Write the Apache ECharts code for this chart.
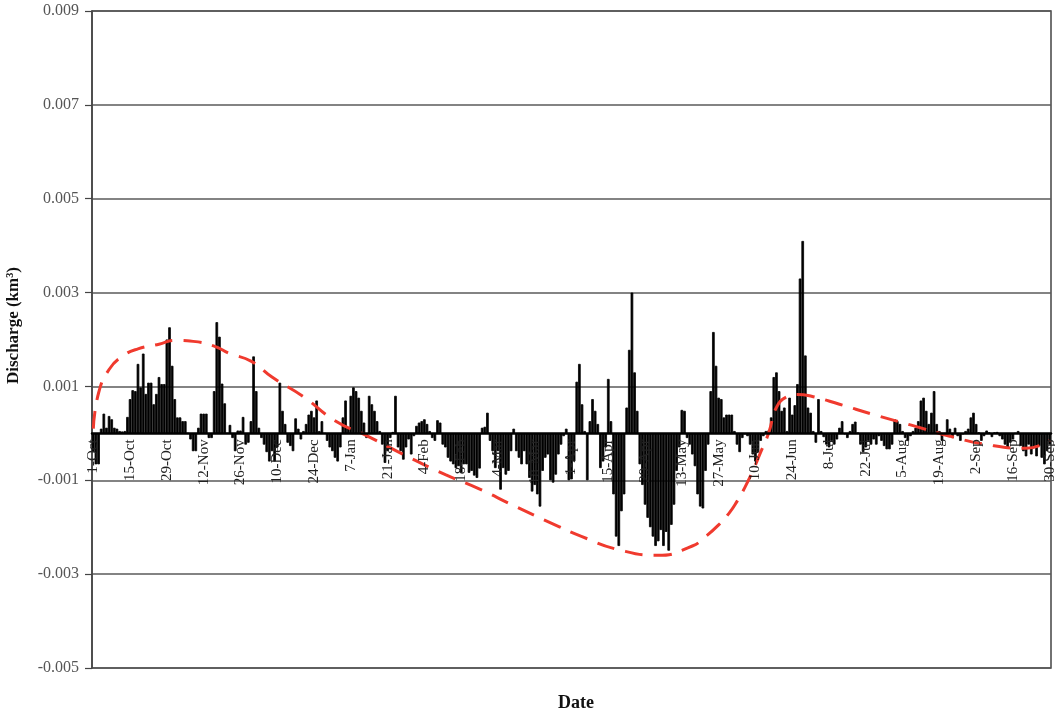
<!DOCTYPE html>
<html>
<head>
<meta charset="utf-8">
<title>Daily discharge</title>
<script src="https://cdn.jsdelivr.net/npm/echarts@6/dist/echarts.min.js"></script>
<style>
  html, body { margin: 0; padding: 0; background: #fff; }
  #chart { width: 1055px; height: 713px; }
</style>
</head>
<body>
<div id="chart"></div>
<script>
// Water year, 1 October to 30 September
const monthNames = ['Oct', 'Nov', 'Dec', 'Jan', 'Feb', 'Mar', 'Apr', 'May', 'Jun', 'Jul', 'Aug', 'Sep'];
const monthLengths = [31, 30, 31, 31, 28, 31, 30, 31, 30, 31, 31, 30];

// Daily discharge (km3), one array per month
const octQ = [-0.0004, -0.00066, -0.00066, 0.0001, 0.00042, 0.00012, 0.00037, 0.0003, 0.00012, 0.0001,
  0.00005, 0.00004, 0.00005, 0.00035, 0.00073, 0.00092, 0.0009, 0.00148, 0.00098, 0.0017,
  0.00084, 0.00108, 0.00108, 0.00062, 0.00084, 0.0012, 0.00105, 0.00105, 0.002, 0.00226,
  0.00144];
const novQ = [0.00073, 0.00034, 0.00034, 0.00026, 0.00026, 0.0, -0.00013, -0.00038, -0.00038, 0.00012,
  0.00042, 0.00042, 0.00042, -0.0001, -0.0001, 0.0009, 0.00237, 0.00206, 0.00106, 0.00064,
  0.0, 0.00018, -0.0001, -0.00038, 0.00006, 0.00006, 0.00035, -0.00024, -0.0002, 0.00026];
const decQ = [0.00164, 0.0009, 0.00012, -0.0001, -0.00024, -0.0004, -0.0006, -0.00038, -0.0006, -0.0003,
  0.00108, 0.00048, 0.0002, -0.0002, -0.00027, -0.00038, 0.00032, 0.0001, -0.00013, 0.00005,
  0.0002, 0.0004, 0.00048, 0.00034, 0.0007, 0.00005, 0.00026, 0.0, -0.00016, -0.0003,
  -0.00038];
const janQ = [-0.00052, -0.0006, -0.0003, 0.00034, 0.0007, 0.00012, 0.0008, 0.00098, 0.0009, 0.00076,
  0.00048, 0.00023, -0.0001, 0.0008, 0.00062, 0.00048, 0.00026, 0.00005, -0.00024, -0.00063,
  -0.00038, -0.0001, 0.00003, 0.0008, -0.0003, -0.00038, -0.00056, -0.0003, -0.00013, -0.00045,
  -0.00006];
const febQ = [0.00016, 0.00023, 0.00026, 0.0003, 0.0002, 0.00005, -0.0001, -0.00016, 0.00028, 0.00023,
  -0.00024, -0.0003, -0.00052, -0.0006, -0.00066, -0.00074, -0.0007, -0.00084, -0.00066, -0.00066,
  -0.00084, -0.0008, -0.0009, -0.00095, -0.00075, 0.00012, 0.00014, 0.00044];
const marQ = [-0.00016, -0.00038, -0.00074, -0.00038, -0.0012, -0.00074, -0.00088, -0.0008, -0.00038, 0.0001,
  -0.00038, -0.00052, -0.00066, -0.00038, -0.00066, -0.00095, -0.00124, -0.0011, -0.0013, -0.00156,
  -0.0008, -0.00052, -0.00045, -0.001, -0.00105, -0.00088, -0.00045, -0.00024, -0.00006, 0.0001,
  -0.001];
const aprQ = [-0.00098, -0.0006, 0.0011, 0.00148, 0.00062, 0.00005, -0.001, 0.00026, 0.00073, 0.00048,
  0.0002, -0.00074, -0.0006, -0.0003, 0.00116, 0.00026, -0.0013, -0.0022, -0.0024, -0.00166,
  -0.0013, 0.00055, 0.00178, 0.003, 0.0013, 0.00048, -0.00066, -0.0011, -0.00152, -0.0018];
const mayQ = [-0.002, -0.0022, -0.0024, -0.0023, -0.00206, -0.0024, -0.0021, -0.0025, -0.00195, -0.00152,
  -0.0008, -0.0003, 0.0005, 0.00048, -0.0001, -0.00024, -0.00045, -0.0007, -0.0013, -0.00156,
  -0.0016, -0.0008, -0.00024, 0.0009, 0.00216, 0.00144, 0.00076, 0.00073, 0.00034, 0.0004,
  0.0004];
const junQ = [0.0004, 0.00005, -0.00024, -0.0004, -0.0001, -0.00002, -0.00006, -0.00024, -0.00045, -0.0006,
  -0.0004, -0.00016, -0.00006, 0.00005, 0.00006, 0.00034, 0.0012, 0.0013, 0.0009, 0.00048,
  0.00055, 0.00005, 0.00076, 0.0004, 0.0006, 0.00105, 0.0033, 0.0041, 0.00166, 0.00055];
const julQ = [0.00044, 0.00005, -0.0002, 0.00073, 0.00005, -0.00008, -0.00024, -0.0003, -0.00016, -0.00024,
  -0.00013, 0.00012, 0.00026, -0.00002, -0.0001, 0.00005, 0.0002, 0.00025, 0.00001, -0.00024,
  -0.0004, -0.0003, -0.00016, -0.00024, -0.00013, -0.00024, -0.00006, -0.00016, -0.00027, -0.00034,
  -0.00034];
const augQ = [-0.00024, 0.0003, 0.00026, 0.0002, 0.00005, -0.0001, -0.00016, -0.00006, 0.00005, 0.00012,
  0.00026, 0.0007, 0.00076, 0.00048, 0.0002, 0.00044, 0.0009, 0.0002, 0.00005, -0.00016,
  0.0, 0.0003, 0.0001, -0.0001, 0.00012, -0.00006, -0.00016, -0.00002, 0.00005, 0.0001,
  0.00034];
const sepQ = [0.00044, 0.0002, 0.00002, -0.00016, -0.00006, 0.00006, 0.00002, -0.00008, 0.00002, 0.00003,
  -0.00006, -0.00013, -0.00024, -0.0003, -0.0002, -0.00013, 0.0, 0.00005, -0.00027, -0.00038,
  -0.00049, -0.00024, -0.00045, -0.0003, -0.00049, -0.00027, -0.00052, -0.00066, -0.00038, -0.00024];

// Seasonal trend curve: day index within the year and its value
const trendDays = [0, 2, 6, 11, 17, 25, 31, 38, 46, 52, 60, 68, 80, 92, 104, 118, 134, 146, 160, 173,
  186, 200, 215, 228, 233, 238, 242, 245, 248, 251, 254, 257, 260, 264, 268, 274, 284, 297, 311, 326,
  340, 355, 364];
const trendValues = [0.0001, 0.00086, 0.00136, 0.00164, 0.0018, 0.0019, 0.00198, 0.00196, 0.00186, 0.0017,
  0.00154, 0.0012, 0.00078, 0.00027, -0.00005, -0.00045, -0.00088, -0.00116, -0.00154, -0.00188,
  -0.0022, -0.00248, -0.0026, -0.0024, -0.0022, -0.00195, -0.0017, -0.00145, -0.00115, -0.0008,
  -0.0004, 0.0, 0.00055, 0.00078, 0.00083, 0.00078, 0.00062, 0.0004, 0.00018, -0.00006,
  -0.00024, -0.00032, -0.00015];

// Value axis range
const yMin = -0.005;
const yMax = 0.009;
const yStep = 0.002;

// Plot area placement (px)
const gridTop = 11;
const gridBottom = 45;
const chartHeight = 713;
const plotHeight = chartHeight - gridTop - gridBottom;
// Lift the date axis from the bottom edge up to the zero line
const zeroLift = -plotHeight * (0 - yMin) / (yMax - yMin);

const dates = [];
monthNames.forEach((m, i) => {
  for (let d = 1; d <= monthLengths[i]; d++) dates.push(d + '-' + m);
});
const discharge = [].concat(octQ, novQ, decQ, janQ, febQ, marQ, aprQ, mayQ, junQ, julQ, augQ, sepQ);
const trend = trendDays.map((d, i) => [d, trendValues[i]]);

const serif = '"Liberation Serif", "DejaVu Serif", serif';
const chart = echarts.init(document.getElementById('chart'), null, { renderer: 'canvas' });

chart.setOption({
  animation: false,
  backgroundColor: '#ffffff',
  title: {
    text: 'Date',
    left: 571,
    top: 689,
    textAlign: 'center',
    textStyle: { fontFamily: serif, fontWeight: 'bold', fontSize: 18, color: '#111' }
  },
  grid: {
    left: 92, right: 4, top: gridTop, bottom: gridBottom,
    containLabel: false, outerBoundsMode: 'none',
    show: true, borderColor: '#444', borderWidth: 1.5, backgroundColor: 'transparent'
  },
  xAxis: {
    type: 'category',
    data: dates,
    boundaryGap: true,
    position: 'bottom',
    offset: zeroLift,
    z: 5,
    axisLine: { onZero: false, lineStyle: { color: '#000', width: 2.5 } },
    axisTick: { show: false },
    axisLabel: {
      interval: 13,
      rotate: 90,
      margin: 6,
      fontFamily: serif,
      fontSize: 15,
      color: '#222'
    },
    splitLine: { show: false }
  },
  yAxis: {
    type: 'value',
    min: yMin,
    max: yMax,
    interval: yStep,
    name: 'Discharge (km³)',
    nameLocation: 'middle',
    nameGap: 70,
    nameTextStyle: {
      fontFamily: serif, fontWeight: 'bold', fontSize: 17, color: '#111',
      padding: [0, 0, 0, 28]
    },
    axisLine: { show: true, onZero: false, lineStyle: { color: '#444', width: 1.5 } },
    axisTick: { show: true, inside: false, length: 7, lineStyle: { color: '#444', width: 1.2 } },
    axisLabel: {
      margin: 13,
      fontFamily: serif,
      fontSize: 16,
      color: '#555',
      formatter: v => v.toFixed(3)
    },
    splitLine: { show: true, lineStyle: { color: '#5a5a5a', width: 1.5 } }
  },
  series: [{
    name: 'Discharge',
    type: 'bar',
    data: discharge,
    barCategoryGap: '0%',
    itemStyle: { color: '#000', borderColor: '#000', borderWidth: 0.8 },
    z: 2
  }, {
    name: 'Trend',
    type: 'line',
    data: trend,
    smooth: 0.5,
    showSymbol: false,
    symbol: 'none',
    lineStyle: { color: '#f03a2e', width: 3, type: [18, 11] },
    z: 3
  }]
});
</script>
</body>
</html>
